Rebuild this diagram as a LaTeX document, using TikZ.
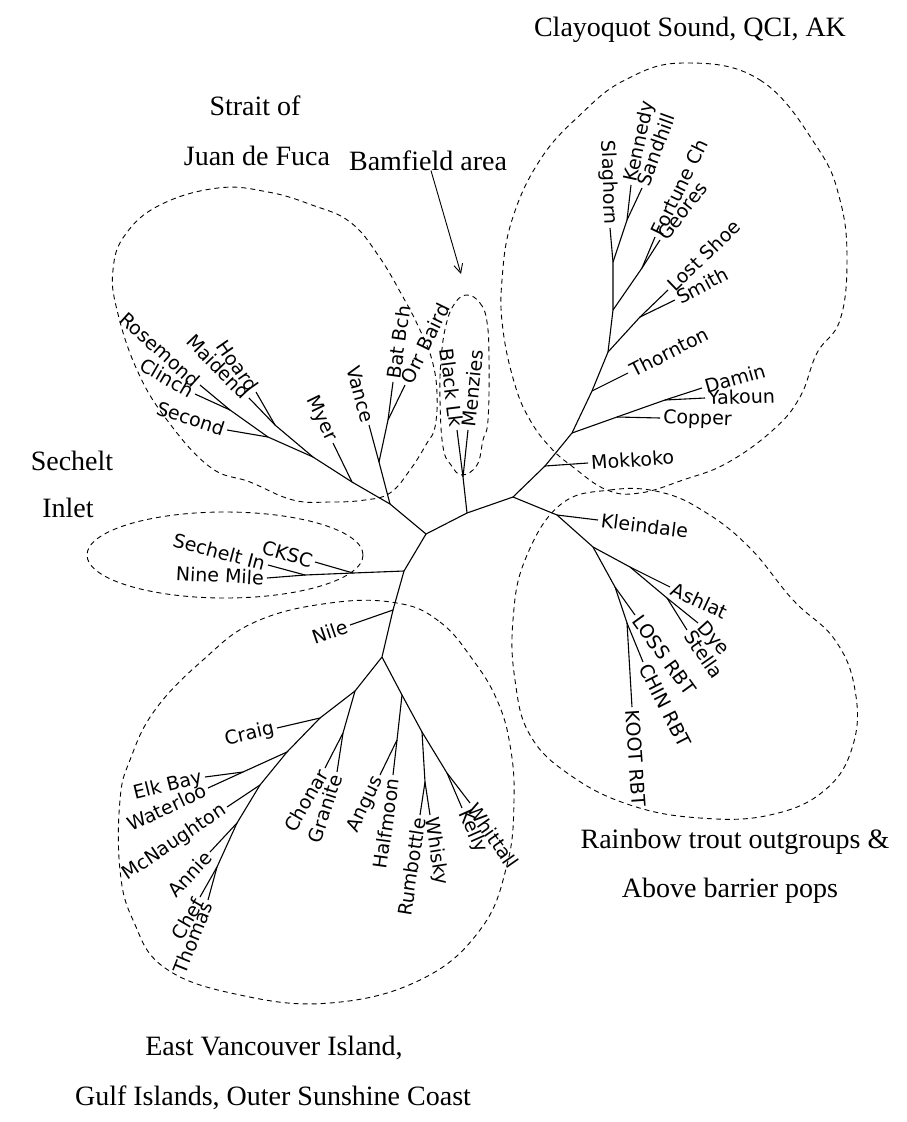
\documentclass[tikz,border=0pt]{standalone}
\usepackage{fontspec}
\setmainfont{Liberation Serif}
\newfontfamily\treefont{DejaVu Sans}
\usetikzlibrary{arrows.meta}

\begin{document}
\begin{tikzpicture}[
    x=1pt, y=-1pt,
    br/.style={line width=1.1pt},
    grp/.style={line width=0.9pt, dash pattern=on 5pt off 4pt},
    leaf/.style={font=\treefont\fontsize{19}{19}\selectfont, inner sep=3pt},
    lr/.style={leaf, anchor=west},
    ll/.style={leaf, anchor=east},
    ttl/.style={font=\fontsize{28}{30}\selectfont, anchor=base, inner sep=0pt},
    arr/.style={-{Straight Barb[length=9pt,width=9pt]}, line width=0.9pt}
]
\useasboundingbox (0,0) rectangle (907,1122);

% --- group titles ---
\node[ttl] (clayo) at (690,36) {Clayoquot Sound, QCI, AK};
\node[ttl] (strait1) at (255,115) {Strait of};
\node[ttl] (strait2) at (257,165) {Juan de Fuca};
\node[ttl] (bamfield) at (428,170) {Bamfield area};
\node[ttl] (sech1) at (72,470) {Sechelt};
\node[ttl] (sech2) at (68,517) {Inlet};
\node[ttl] (rain1) at (735,848) {Rainbow trout outgroups \&};
\node[ttl] (rain2) at (730,897) {Above barrier pops};
\node[ttl] (east1) at (274,1055) {East Vancouver Island,};
\node[ttl] (east2) at (273,1105) {Gulf Islands, Outer Sunshine Coast};
\coordinate (bamtip) at (461,274);
\draw[arr] (bamfield) -- (bamtip);

% --- centre of the tree ---
\coordinate (a) at (426,534);
\coordinate (b) at (467,513);
\coordinate (c) at (513,497);
\coordinate (d) at (390,504);
\coordinate (e) at (404,571);
\draw[br] (d) -- (a) -- (b) -- (c);
\draw[br] (a) -- (e);

% --- Clayoquot Sound, QCI, AK ---
\coordinate (n1) at (545,466);
\coordinate (n2) at (572,433);
\coordinate (n3) at (592,391);
\coordinate (n4) at (608,352);
\coordinate (n5) at (613,310);
\coordinate (n6) at (613,262);
\coordinate (ks) at (627,220);
\coordinate (fg) at (642,268);
\coordinate (ls) at (640,317);
\coordinate (cp) at (617,417);
\coordinate (dy) at (665,400);
\node[lr, rotate=4] (mokkoko) at (588,463) {Mokkoko};
\node[lr, rotate=-2] (copper) at (660,418) {Copper};
\node[lr, rotate=16] (damin) at (702,388) {Damin};
\node[lr, rotate=2] (yakoun) at (705,398) {Yakoun};
\node[lr, rotate=27] (thornton) at (628,373) {Thornton};
\node[lr, rotate=44] (lostshoe) at (668,290) {Lost Shoe};
\node[lr, rotate=28] (smith) at (675,300) {Smith};
\node[lr, rotate=64] (fortune) at (655,237) {Fortune Ch};
\node[lr, rotate=52] (geores) at (660,240) {Geores};
\node[ll, rotate=-88] (slaghorn) at (610,228) {Slaghorn};
\node[lr, rotate=78] (kennedy) at (631,185) {Kennedy};
\node[lr, rotate=70] (sandhill) at (642,188) {Sandhill};
\draw[br] (c) -- (n1) -- (n2) -- (n3) -- (n4) -- (n5) -- (n6) -- (slaghorn.east);
\draw[br] (n1) -- (mokkoko.west);
\draw[br] (n2) -- (cp) -- (copper.west);
\draw[br] (cp) -- (dy) -- (damin.west);
\draw[br] (dy) -- (yakoun.west);
\draw[br] (n3) -- (thornton.west);
\draw[br] (n4) -- (ls) -- (lostshoe.west);
\draw[br] (ls) -- (smith.west);
\draw[br] (n5) -- (fg) -- (fortune.west);
\draw[br] (fg) -- (geores.west);
\draw[br] (n6) -- (ks) -- (kennedy.west);
\draw[br] (ks) -- (sandhill.west);
\draw[grp] plot[smooth cycle, tension=0.7] coordinates {(684,63) (760,80) (817,147) (840,200) (847,260) (840,320) (817,353) (800,397) (773,430) (727,463) (683,480) (640,493) (607,490) (573,467) (550,447) (530,420) (515,385) (503,330) (502,280) (512,220) (540,160) (580,115) (625,80)};

% --- Rainbow trout outgroups ---
\coordinate (k1) at (557,515);
\coordinate (k2) at (593,547);
\coordinate (q1) at (630,567);
\coordinate (q2) at (667,598);
\coordinate (r1) at (615,587);
\coordinate (r2) at (627,623);
\node[lr, rotate=-7] (kleindale) at (598,520) {Kleindale};
\node[lr, rotate=-25] (ashlat) at (670,587) {Ashlat};
\node[lr, rotate=-48] (dye) at (698,623) {Dye};
\node[lr, rotate=-55] (stella) at (687,630) {Stella};
\node[lr, rotate=-54] (loss) at (635,615) {LOSS RBT};
\node[lr, rotate=-63] (chin) at (643,662) {CHIN RBT};
\node[lr, rotate=-86] (koot) at (632,707) {KOOT RBT};
\draw[br] (c) -- (k1) -- (k2) -- (q1) -- (ashlat.west);
\draw[br] (k1) -- (kleindale.west);
\draw[br] (q1) -- (q2) -- (dye.west);
\draw[br] (q2) -- (stella.west);
\draw[br] (k2) -- (r1) -- (loss.west);
\draw[br] (r1) -- (r2) -- (chin.west);
\draw[br] (r2) -- (koot.west);
\draw[grp] plot[smooth cycle, tension=0.7] coordinates {(560,505) (610,490) (660,492) (705,512) (750,548) (793,600) (835,640) (855,690) (853,745) (825,790) (770,815) (700,818) (630,805) (570,775) (530,735) (515,680) (513,620) (525,560)};

% --- Bamfield area ---
\coordinate (bm) at (463,477);
\node[ll, rotate=-83] (blacklk) at (457,430) {Black Lk};
\node[lr, rotate=84] (menzies) at (468,430) {Menzies};
\draw[br] (b) -- (bm) -- (blacklk.east);
\draw[br] (bm) -- (menzies.west);
\draw[grp] plot[smooth cycle, tension=0.7] coordinates {(467,295) (480,303) (487,322) (489,360) (488,420) (483,440) (477,465) (462,475) (451,465) (443,447) (440,400) (441,360) (446,325) (455,303)};

% --- Strait of Juan de Fuca ---
\coordinate (v1) at (379,462);
\coordinate (v2) at (388,420);
\coordinate (m1) at (352,482);
\coordinate (l1) at (313,457);
\coordinate (hm) at (275,425);
\coordinate (l2) at (268,437);
\coordinate (rc) at (230,410);
\node[ll, rotate=-75] (vance) at (369,425) {Vance};
\node[lr, rotate=82] (batbch) at (393,382) {Bat Bch};
\node[lr, rotate=64] (orrbaird) at (405,385) {Orr Baird};
\node[ll, rotate=-64] (myer) at (333,443) {Myer};
\node[ll, rotate=-55] (hoard) at (256,392) {Hoard};
\node[ll, rotate=-46] (maidend) at (249,398) {Maidend};
\node[ll, rotate=-18] (second) at (227,430) {Second};
\node[ll, rotate=-42] (rosemond) at (200,385) {Rosemond};
\node[ll, rotate=-30] (clinch) at (195,394) {Clinch};
\draw[br] (d) -- (v1) -- (vance.east);
\draw[br] (v1) -- (v2) -- (batbch.west);
\draw[br] (v2) -- (orrbaird.west);
\draw[br] (d) -- (m1) -- (myer.east);
\draw[br] (m1) -- (l1) -- (hm) -- (hoard.east);
\draw[br] (hm) -- (maidend.east);
\draw[br] (l1) -- (l2) -- (second.east);
\draw[br] (l2) -- (rc) -- (rosemond.east);
\draw[br] (rc) -- (clinch.east);
\draw[grp] plot[smooth cycle, tension=0.7] coordinates {(218,188) (268,192) (312,205) (350,222) (378,255) (403,297) (420,330) (432,360) (437,393) (435,427) (427,443) (410,470) (390,493) (365,500) (330,502) (293,500) (250,482) (210,467) (167,420) (137,370) (117,310) (113,270) (125,235) (160,205)};

% --- Sechelt Inlet ---
\coordinate (s1) at (353,573);
\coordinate (s2) at (305,575);
\node[ll, rotate=-16] (cksc) at (315,562) {CKSC};
\node[ll, rotate=-15] (sechin) at (268,565) {Sechelt In};
\node[ll, rotate=-3] (ninemile) at (267,578) {Nine Mile};
\draw[br] (e) -- (s1) -- (cksc.east);
\draw[br] (s1) -- (s2) -- (sechin.east);
\draw[br] (s2) -- (ninemile.east);
\draw[grp] (225,555) ellipse [x radius=138, y radius=43];

% --- East Vancouver Island, Gulf Islands, Outer Sunshine Coast ---
\coordinate (f) at (393,610);
\coordinate (g) at (382,657);
\coordinate (h) at (355,691);
\coordinate (cg) at (343,733);
\coordinate (j1) at (320,718);
\coordinate (j2) at (287,752);
\coordinate (ew) at (243,772);
\coordinate (j3) at (260,785);
\coordinate (j4) at (237,823);
\coordinate (j5) at (217,867);
\coordinate (k) at (402,695);
\coordinate (ah) at (397,740);
\coordinate (ln) at (422,732);
\coordinate (rw) at (425,782);
\coordinate (wk) at (447,773);
\node[ll, rotate=19] (nile) at (350,625) {Nile};
\node[ll, rotate=60] (chonar) at (325,768) {Chonar};
\node[ll, rotate=72] (granite) at (337,772) {Granite};
\node[ll, rotate=13] (craig) at (277,728) {Craig};
\node[ll, rotate=14] (elkbay) at (205,777) {Elk Bay};
\node[ll, rotate=25] (waterloo) at (208,788) {Waterloo};
\node[ll, rotate=34] (mcnaughton) at (227,807) {McNaughton};
\node[ll, rotate=47] (annie) at (210,852) {Annie};
\node[ll, rotate=60] (chef) at (200,897) {Chef};
\node[ll, rotate=68] (thomas) at (208,900) {Thomas};
\node[ll, rotate=64] (angus) at (380,775) {Angus};
\node[ll, rotate=82] (halfmoon) at (393,775) {Halfmoon};
\node[ll, rotate=81] (rumbottle) at (420,815) {Rumbottle};
\node[lr, rotate=-81] (whisky) at (430,815) {Whisky};
\node[lr, rotate=-55] (whittall) at (470,803) {Whittall};
\node[lr, rotate=-66] (kelly) at (462,808) {Kelly};
\draw[br] (e) -- (f) -- (nile.east);
\draw[br] (f) -- (g) -- (h) -- (cg) -- (chonar.east);
\draw[br] (cg) -- (granite.east);
\draw[br] (h) -- (j1) -- (craig.east);
\draw[br] (j1) -- (j2) -- (ew) -- (elkbay.east);
\draw[br] (ew) -- (waterloo.east);
\draw[br] (j2) -- (j3) -- (mcnaughton.east);
\draw[br] (j3) -- (j4) -- (annie.east);
\draw[br] (j4) -- (j5) -- (chef.east);
\draw[br] (j5) -- (thomas.east);
\draw[br] (g) -- (k) -- (ah) -- (angus.east);
\draw[br] (ah) -- (halfmoon.east);
\draw[br] (k) -- (ln) -- (rw) -- (rumbottle.east);
\draw[br] (rw) -- (whisky.west);
\draw[br] (ln) -- (wk) -- (whittall.west);
\draw[br] (wk) -- (kelly.west);
\draw[grp] plot[smooth cycle, tension=0.7] coordinates {(397,603) (440,622) (473,660) (497,700) (510,745) (514,800) (507,865) (480,930) (420,980) (330,1003) (240,995) (165,968) (133,920) (120,870) (120,800) (130,760) (155,710) (203,660) (255,622) (330,603)};
\end{tikzpicture}
\end{document}
